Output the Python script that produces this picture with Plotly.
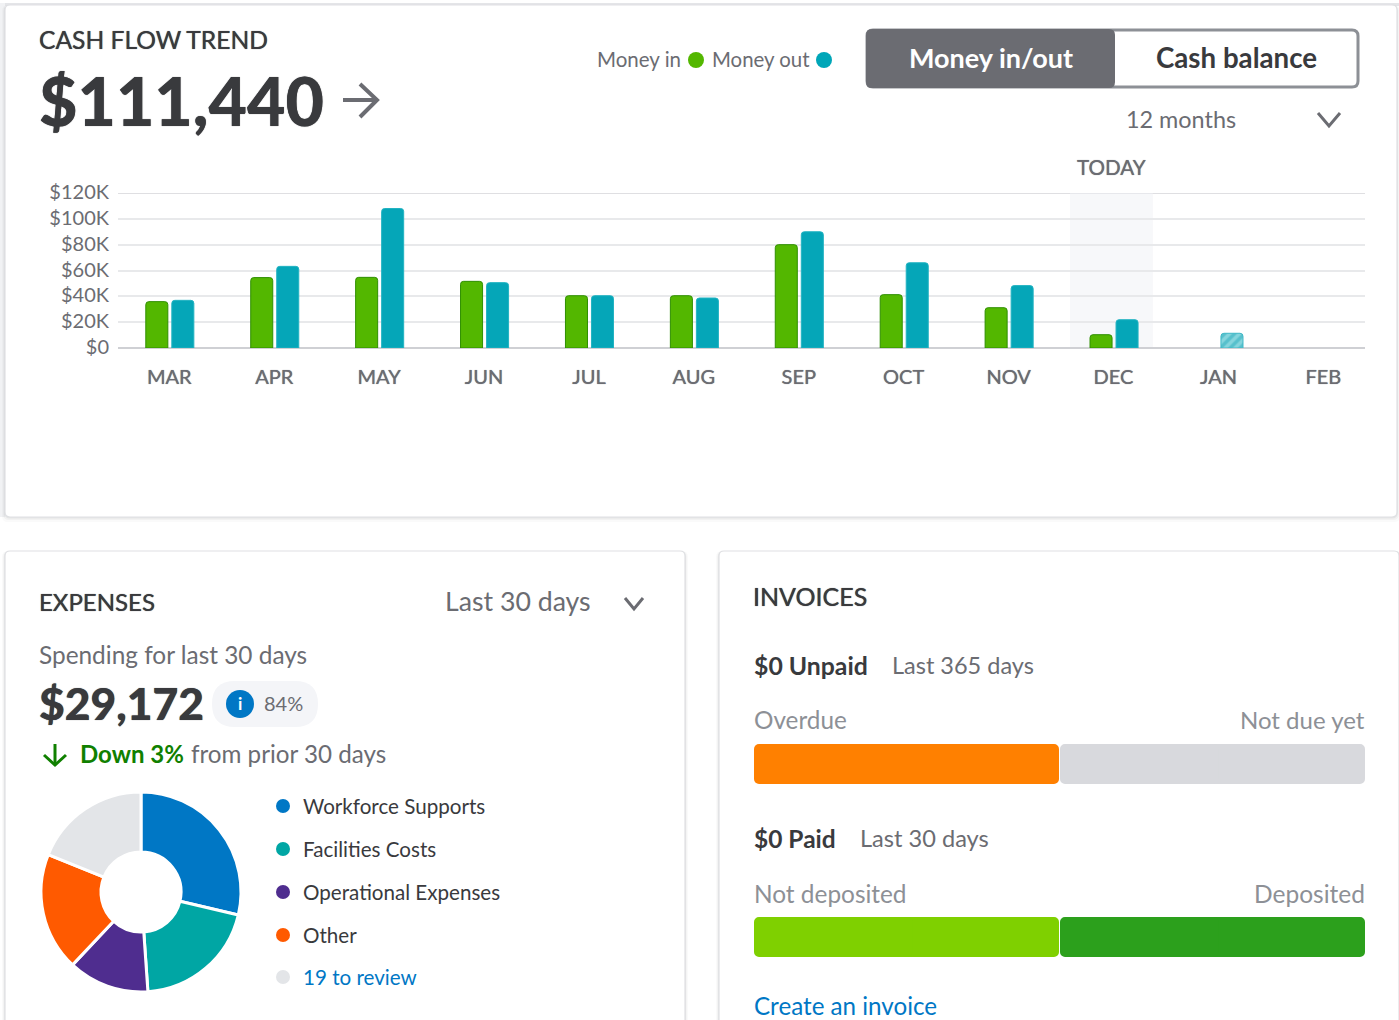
import plotly.graph_objects as go

W, H = 1399, 1020
FONT = "Lato"
DARK = "#393a3d"
GRAY = "#6b6c72"
LIGHT = "#8d9096"
BLUE = "#0077c5"

months = ["MAR", "APR", "MAY", "JUN", "JUL", "AUG", "SEP", "OCT", "NOV", "DEC", "JAN", "FEB"]
money_in = [35900, 54500, 54700, 51600, 40500, 40500, 80000, 41300, 31200, 10300, None, None]
money_out = [36900, 63200, 108000, 50600, 40500, 38700, 90000, 66000, 48300, 21900, None, None]
forecast_month = ["JAN"]
forecast_out = [11400]
y_ticks = [0, 20000, 40000, 60000, 80000, 100000, 120000]
y_labels = ["$0", "$20K", "$40K", "$60K", "$80K", "$100K", "$120K"]

expense_labels = ["Workforce Supports", "Facilities Costs", "Operational Expenses", "Other", "19 to review"]
expense_values = [28.7, 20.2, 13.1, 19.1, 18.9]
expense_colors = ["#0077c5", "#00a6a4", "#4f2d8f", "#ff5a00", "#e3e5e8"]

invoice_rows = ["Unpaid", "Paid"]
invoice_left = [50, 50]
invoice_right = [50, 50]
invoice_left_colors = ["#ff8000", "#7fd000"]
invoice_right_colors = ["#d8d9dd", "#2ca01c"]


def px(x):
    return x / W


def py(y):
    return 1 - y / H


def rrect(x0, y0, x1, y1, r):
    return (f"M{px(x0+r)},{py(y0)} L{px(x1-r)},{py(y0)} Q{px(x1)},{py(y0)} {px(x1)},{py(y0+r)} "
            f"L{px(x1)},{py(y1-r)} Q{px(x1)},{py(y1)} {px(x1-r)},{py(y1)} "
            f"L{px(x0+r)},{py(y1)} Q{px(x0)},{py(y1)} {px(x0)},{py(y1-r)} "
            f"L{px(x0)},{py(y0+r)} Q{px(x0)},{py(y0)} {px(x0+r)},{py(y0)} Z")


shapes = []
annotations = []


def box(x0, y0, x1, y1, r, fill, line=None, lw=0, layer="below"):
    shapes.append(dict(type="path", path=rrect(x0, y0, x1, y1, r), xref="paper", yref="paper",
                       fillcolor=fill, line=dict(color=line or fill, width=lw), layer=layer))


def poly(points, color, lw):
    d = "M" + " L".join(f"{px(a)},{py(b)}" for a, b in points)
    shapes.append(dict(type="path", path=d, xref="paper", yref="paper",
                       line=dict(color=color, width=lw), layer="above"))


def dot(x, y, r, color):
    shapes.append(dict(type="circle", xref="paper", yref="paper", x0=px(x-r), x1=px(x+r),
                       y0=py(y-r), y1=py(y+r), fillcolor=color, line=dict(width=0), layer="above"))


def text(s, x, y, size, color=DARK, anchor="left", weight=400, heavy=False):
    nudge = {"left": -2, "right": 2, "center": 0}[anchor]
    font = dict(family=FONT, size=size, color=color, weight=weight)
    if heavy:
        font["shadow"] = f"0 0 0.8px {color}"
    annotations.append(dict(text=s, x=px(x + nudge), y=py(y - 1), xref="paper", yref="paper", showarrow=False,
                            xanchor=anchor, yanchor="middle", align=anchor, font=font))


def card(x0, y0, x1, y1):
    for grow, alpha in ((5, 0.025), (3, 0.04), (1.5, 0.06)):
        box(x0 - grow * 0.6, y0, x1 + grow * 0.6, y1 + grow, 6, f"rgba(40,44,52,{alpha})")
    box(x0, y0, x1, y1, 5, "#ffffff", "#dfe0e3", 1.2)


# Cards
shapes.append(dict(type="rect", xref="paper", yref="paper", x0=0, x1=1, y0=py(6), y1=py(3),
                   fillcolor="#e4e5e8", line=dict(width=0), layer="below"))
shapes.append(dict(type="rect", xref="paper", yref="paper", x0=0, x1=px(5), y0=py(517), y1=py(3),
                   fillcolor="#f1f2f4", line=dict(width=0), layer="below"))
card(5, 5, 1397, 517)
card(5, 551, 685, 1030)
card(719, 551, 1399, 1030)

# Header of the cash flow card
text("CASH FLOW TREND", 39, 41, 24.6, heavy=True)
text("$111,440", 39, 102, 66.3, DARK, weight=900, heavy=True)
poly([(343, 100), (377, 100)], GRAY, 4)
poly([(360, 84), (377, 100), (360, 117)], GRAY, 4)
text("Money in", 597, 60, 20.5, GRAY)
dot(696, 60, 8, "#53b700")
text("Money out", 712, 60, 20.4, GRAY)
dot(824, 60, 8, "#00a6b8")
box(867, 30, 1358, 87, 6, "#ffffff", LIGHT, 3)
box(866, 29, 1115, 88, 6, GRAY, GRAY, 0)
text("Money in/out", 991, 58, 27, "#ffffff", "center", 700)
text("Cash balance", 1236, 58, 27.7, DARK, "center", 700)
text("12 months", 1126, 120, 23.4, GRAY)
poly([(1318, 113), (1329, 126), (1340, 113)], GRAY, 3)
text("TODAY", 1111, 168, 20.6, GRAY, "center", heavy=True)

# Expenses card
text("EXPENSES", 39, 602, 24, DARK, heavy=True)
text("Last 30 days", 445, 602, 26.7, GRAY)
poly([(625, 598), (634, 609), (643, 598)], GRAY, 3)
text("Spending for last 30 days", 39, 655, 24.4, GRAY)
text("$29,172", 39, 703, 44.4, DARK, weight=900, heavy=True)
box(212, 681, 318, 727, 23, "#f4f5f8", layer="below")
dot(240, 704, 14, BLUE)
text("i", 240, 704, 17, "#ffffff", "center", 700)
text("84%", 264, 704, 20, GRAY)
poly([(55, 744), (55, 765)], "#108000", 3)
poly([(44, 755), (55, 765), (66, 755)], "#108000", 3)
text("Down 3%", 80, 754, 24, "#108000", weight=700)
text("from prior 30 days", 191, 754, 24.2, GRAY)
for label, color, y in zip(expense_labels, expense_colors, [806, 849, 892, 935, 977]):
    dot(283, y, 7, color)
    text(label, 303, y + 1, 20.6, BLUE if label == "19 to review" else DARK)

# Invoices card
text("INVOICES", 753, 597, 25, DARK, heavy=True)
text("$0 Unpaid", 754, 666, 24.8, DARK, weight=700)
text("Last 365 days", 892, 666, 23.5, GRAY)
text("Overdue", 754, 720, 24.3, LIGHT)
text("Not due yet", 1365, 720, 24, LIGHT, "right")
text("$0 Paid", 754, 839, 24.5, DARK, weight=700)
text("Last 30 days", 860, 839, 23.6, GRAY)
text("Not deposited", 754, 894, 24.4, LIGHT)
text("Deposited", 1365, 894, 24.5, LIGHT, "right")
text("Create an invoice", 754, 1006, 24.2, BLUE)

fig = go.Figure()

# Cash flow bars
BAR_W = 0.21
fig.add_trace(go.Bar(x=months, y=money_in, offset=-0.224, name="Money in", width=BAR_W, showlegend=False,
                     marker=dict(color="#53b700", line=dict(color="#2f8f00", width=1), cornerradius=3)))
fig.add_trace(go.Bar(x=months, y=money_out, offset=0.024, name="Money out", width=BAR_W, showlegend=False,
                     marker=dict(color="#05a6b8", line=dict(color="#22b3c2", width=1), cornerradius=3)))
fig.add_trace(go.Bar(x=forecast_month, y=forecast_out, offset=0.024, name="Money out (projected)",
                     width=BAR_W, showlegend=False,
                     marker=dict(color="#86d5dd", line=dict(color="#3fb8c6", width=1), cornerradius=3,
                                 pattern=dict(shape="/", fgcolor="#27acbc", bgcolor="#86d5dd", size=7, solidity=0.5))))

# Today band and top rule of the plot
shapes.append(dict(type="rect", xref="x", yref="y", x0=8.585, x1=9.375, y0=0, y1=120000,
                   fillcolor="rgba(240,242,246,0.5)", line=dict(width=0), layer="below"))
shapes.append(dict(type="line", xref="x domain", yref="y", x0=0, x1=1, y0=120000, y1=120000,
                   line=dict(color="#d4d5d9", width=1.5), layer="below"))

# Expenses doughnut
fig.add_trace(go.Pie(labels=expense_labels, values=expense_values, sort=False, direction="clockwise",
                     rotation=0, hole=0.40, textinfo="none", showlegend=False,
                     marker=dict(colors=expense_colors, line=dict(color="#ffffff", width=3)),
                     domain=dict(x=[px(41), px(241)], y=[py(992), py(792)])))

# Invoice bars: two halves grow from the middle of a segment, so both ends get rounded corners
GAP = 0.08
for side, vals, cols in (("left", invoice_left, invoice_left_colors), ("right", invoice_right, invoice_right_colors)):
    for row, v, c in zip(invoice_rows, vals, cols):
        lo = 0 if side == "left" else 100 - v
        hi = v if side == "left" else 100
        lo += 0 if side == "left" else GAP
        hi -= GAP if side == "left" else 0
        mid = (lo + hi) / 2
        for sign in (1, -1):
            fig.add_trace(go.Bar(y=[row], x=[sign * (hi - lo) / 2 + sign], base=[mid - sign], orientation="h",
                                 xaxis="x2", yaxis="y2", width=40 / 173, showlegend=False,
                                 marker=dict(color=c, line=dict(width=0), cornerradius=5)))

fig.update_layout(
    width=W, height=H, margin=dict(l=0, r=0, t=0, b=0, pad=0, autoexpand=False),
    paper_bgcolor="#ffffff", plot_bgcolor="rgba(0,0,0,0)",
    barmode="overlay", showlegend=False, hovermode=False,
    font=dict(family=FONT),
    shapes=shapes, annotations=annotations,
    xaxis=dict(domain=[px(118), px(1365)], type="category", categoryorder="array", categoryarray=months,
               range=[-0.489, 11.397], showgrid=False, showline=False, zeroline=False, ticks="",
               ticklabelstandoff=15,
               tickfont=dict(family=FONT, size=20, color=GRAY, shadow=f"0 0 0.8px {GRAY}"), anchor="y"),
    yaxis=dict(domain=[py(348), py(193)], range=[0, 120000], tickvals=y_ticks, ticktext=y_labels,
               gridcolor="#e8e9eb", gridwidth=1.5, zeroline=True, zerolinecolor="#cfd0d4", zerolinewidth=1.5,
               showline=False, ticks="", ticklabelstandoff=8, ticklabelshift=-1,
               tickfont=dict(family=FONT, size=20, color=GRAY), anchor="x"),
    xaxis2=dict(domain=[px(754), px(1365)], range=[0, 100], visible=False, anchor="y2"),
    yaxis2=dict(domain=[py(957), py(744)], type="category", categoryorder="array", categoryarray=invoice_rows,
                range=[1 + 20 / 173, -20 / 173], visible=False, anchor="x2"),
)

fig.write_html("out.html", config=dict(displayModeBar=False),
               post_script="document.body.style.margin='0';document.body.style.overflow='hidden';")
